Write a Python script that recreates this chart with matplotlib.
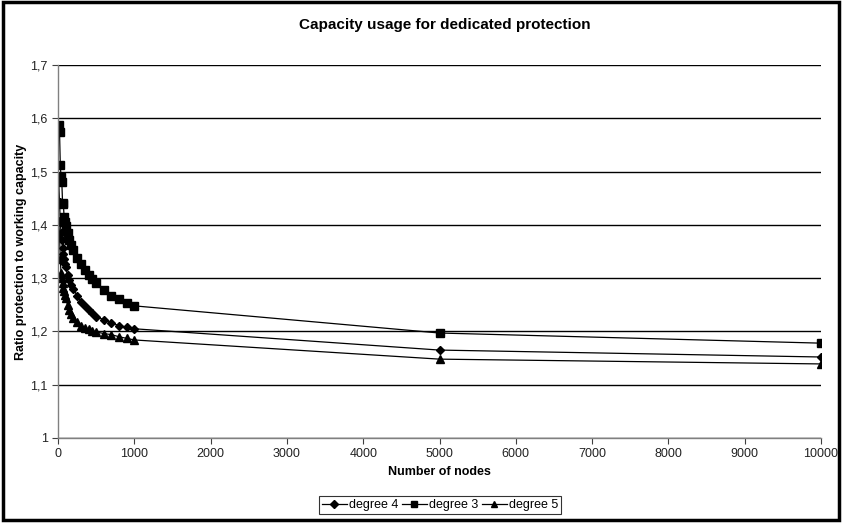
import matplotlib
matplotlib.use("Agg")
import matplotlib.pyplot as plt
from matplotlib.patches import Rectangle
from matplotlib.ticker import FuncFormatter, MultipleLocator

plt.rcParams['font.family'] = ['Liberation Sans', 'DejaVu Sans']

nodes = [10, 20, 30, 40, 50, 60, 70, 80, 90, 100, 125, 150, 175, 200, 250,
         300, 350, 400, 450, 500, 600, 700, 800, 900, 1000, 5000, 10000]

degree4 = [1.480, 1.443, 1.405, 1.385, 1.372, 1.357, 1.345, 1.335, 1.327, 1.320,
           1.305, 1.296, 1.287, 1.280, 1.267, 1.256, 1.248, 1.240, 1.234, 1.228,
           1.222, 1.216, 1.211, 1.208, 1.205, 1.165, 1.152]

degree3 = [1.588, 1.575, 1.512, 1.490, 1.480, 1.441, 1.440, 1.415, 1.405, 1.398,
           1.385, 1.372, 1.362, 1.352, 1.338, 1.326, 1.316, 1.306, 1.298, 1.290,
           1.278, 1.266, 1.260, 1.254, 1.248, 1.197, 1.178]

degree5 = [1.408, 1.380, 1.335, 1.310, 1.300, 1.290, 1.282, 1.275, 1.268, 1.262,
           1.250, 1.240, 1.233, 1.226, 1.217, 1.211, 1.207, 1.204, 1.201, 1.199,
           1.196, 1.194, 1.190, 1.187, 1.184, 1.148, 1.139]

series = [("degree 4", degree4, "D", 4.5),
          ("degree 3", degree3, "s", 5.5),
          ("degree 5", degree5, "^", 5.5)]

W, H = 842, 523
fig = plt.figure(figsize=(W / 100, H / 100), dpi=100)
ax = fig.add_axes([58 / W, 1 - 438 / H, (821 - 58) / W, (438 - 65) / H])

for label, vals, marker, ms in series:
    ax.plot(nodes, vals, color="black", lw=0.9, marker=marker, ms=ms,
            mfc="black", mec="black", label=label)

ax.set_xlim(0, 10000)
ax.set_ylim(1.0, 1.7)
ax.xaxis.set_major_locator(MultipleLocator(1000))
ax.yaxis.set_major_locator(MultipleLocator(0.1))
ax.yaxis.set_major_formatter(FuncFormatter(
    lambda v, p: ("%g" % round(v, 1)).replace(".", ",")))
ax.grid(axis="y", color="black", lw=1.0)
ax.set_axisbelow(True)

for s in ("top", "right"):
    ax.spines[s].set_visible(False)
for s in ("left", "bottom"):
    ax.spines[s].set_color("#808080")
    ax.spines[s].set_linewidth(1.0)
ax.tick_params(axis="both", direction="out", length=4, width=0.8,
               color="#404040", labelsize=9, labelcolor="#222222")

fig.text(445 / W, 1 - 25 / H, "Capacity usage for dedicated protection",
         fontsize=11, fontweight="bold", ha="center", va="center")
ax.set_xlabel("Number of nodes", fontsize=9, fontweight="bold", labelpad=4)
ax.set_ylabel("Ratio protection to working capacity", fontsize=9,
              fontweight="bold", labelpad=2)

leg = fig.legend(loc="center", bbox_to_anchor=(440 / W, 1 - 505 / H),
                 ncol=3, frameon=True, fancybox=False, edgecolor="black",
                 fontsize=9, handlelength=2.0, handletextpad=0.15,
                 columnspacing=0.3, borderpad=0.25, borderaxespad=0,
                 markerscale=0.8)
leg.get_frame().set_linewidth(0.8)

# figure border
fig.patches.append(Rectangle((0.004, 0.006), 0.992, 0.99, transform=fig.transFigure,
                             fill=False, edgecolor="black", lw=2.5))

fig.savefig("out.png", dpi=100)
